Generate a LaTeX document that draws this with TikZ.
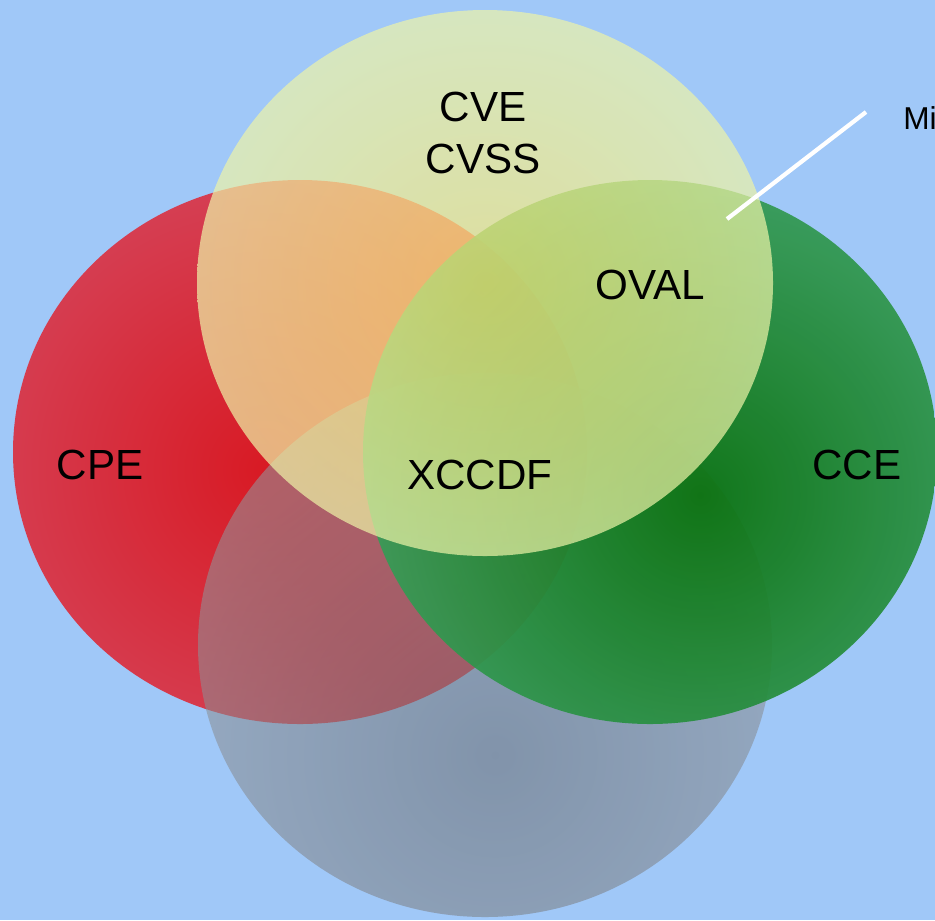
\documentclass[tikz,border=0pt]{standalone}
\usepackage{fontspec}
\setmainfont{Liberation Sans}
\definecolor{skyblue}{HTML}{A0C8F8}
\definecolor{cpeedge}{HTML}{D44E66}
\definecolor{cpemid}{HTML}{D81A24}
\definecolor{cceedge}{HTML}{40A668}
\definecolor{ccemid}{HTML}{067008}
\definecolor{bottomedge}{HTML}{979CA2}
\definecolor{bottommid}{HTML}{6A6B6E}
\definecolor{cveedge}{HTML}{EEF4A8}
\definecolor{cvemid}{HTML}{F8E878}
\begin{document}
\begin{tikzpicture}[x=0.02cm,y=-0.02cm,
    setname/.style={font=\fontsize{24}{30}\selectfont,align=center},
    pointer/.style={draw=white,line width=2.4pt}]
  \fill[skyblue] (0,0) rectangle (935,920);
  \useasboundingbox (0,0) rectangle (935,920);

  % the four sets: red, grey, green, then the pale one on top
  \foreach \cx/\cy/\sx/\sy/\mid/\edge/\op in {300/452/265/470/cpemid/cpeedge/1,
      485/645/495/755/bottommid/bottomedge/0.56,
      650/452/700/495/ccemid/cceedge/0.92} {
    \begin{scope}
      \clip (\cx,\cy) ellipse [x radius=287,y radius=272];
      \shade[inner color=\mid,outer color=\edge,opacity=\op] (\sx,\sy) circle [radius=400];
    \end{scope}
  }
  \shade[inner color=cvemid,outer color=cveedge,opacity=0.7] (485,283) ellipse [x radius=288,y radius=273];

  \node[setname] (cve) at (483,133) {CVE\\CVSS};
  \node[setname] (oval) at (650,285) {OVAL};
  \node[setname] (cpe) at (100,465) {CPE};
  \node[setname] (xccdf) at (480,475) {XCCDF};
  \node[setname] (cce) at (857,465) {CCE};
  \node[font=\fontsize{18}{22}\selectfont,anchor=west,inner sep=0pt] (mitre) at (903,118) {Mi};

  \coordinate (tip) at (727,219);
  \coordinate (elbow) at (866,112);
  \draw[pointer] (tip) -- (elbow);
\end{tikzpicture}
\end{document}
